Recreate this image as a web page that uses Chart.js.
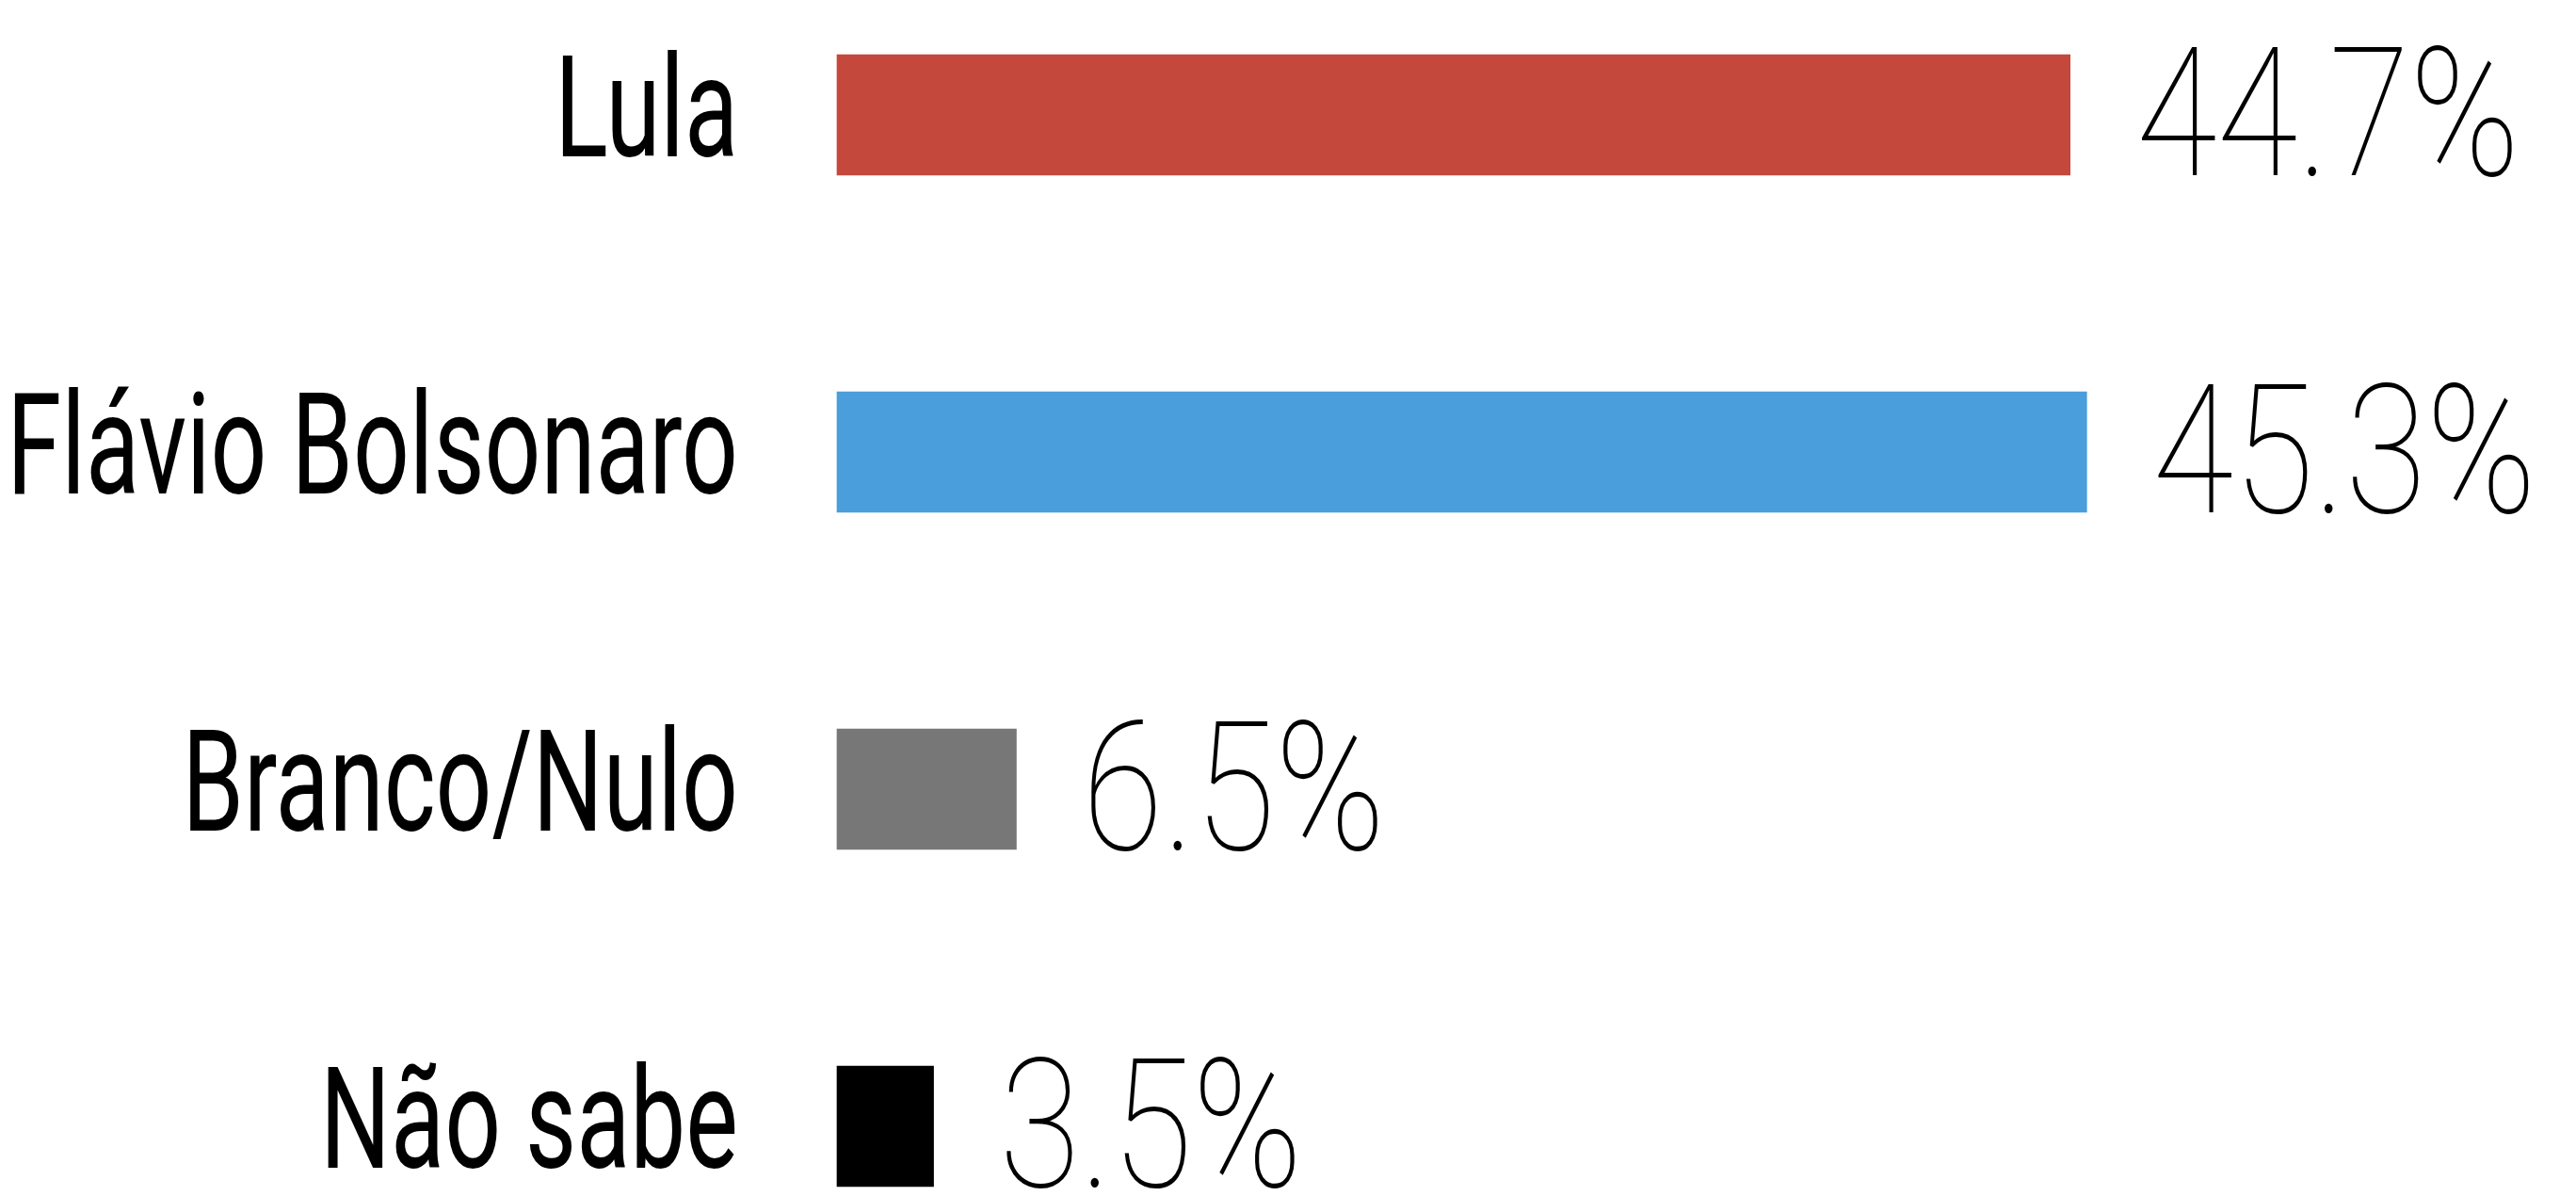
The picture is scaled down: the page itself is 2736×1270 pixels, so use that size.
<!DOCTYPE html>
<html>
<head>
<meta charset="utf-8">
<script src="https://cdn.jsdelivr.net/npm/chart.js@4.4.1/dist/chart.umd.min.js"></script>
<style>
  html, body { margin: 0; padding: 0; background: #ffffff; }
  #wrap { width: 2736px; height: 1270px; position: relative; }
</style>
</head>
<body>
<div id="wrap"><canvas id="chart"></canvas></div>
<script>
const candidates = ['Lula', 'Flávio Bolsonaro', 'Branco/Nulo', 'Não sabe']
const percentages = [44.7, 45.3, 6.5, 3.5]
const barColors = ['#c4483c', '#4a9edb', '#777777', '#000000']

// draws the condensed category names and the value labels
const labelPlugin = {
  id: 'labels',
  afterDatasetsDraw(chart) {
    const ctx = chart.ctx
    const yScale = chart.scales.y
    const meta = chart.getDatasetMeta(0)
    ctx.save()
    ctx.fillStyle = '#000000'
    ctx.textBaseline = 'alphabetic'
    candidates.forEach((name, i) => {
      const y = yScale.getPixelForValue(i)
      // category name, right aligned left of the bars
      ctx.save()
      ctx.translate(chart.chartArea.left - 105, y + 44)
      ctx.scale(0.70, 1)
      ctx.font = '400 150px Roboto, "Liberation Sans", sans-serif'
      ctx.textAlign = 'right'
      ctx.fillText(name, 0, 0)
      ctx.restore()
      // value after the bar
      const bar = meta.data[i]
      ctx.save()
      ctx.translate(bar.x + 70, y + 64)
      ctx.scale(0.82, 1)
      ctx.font = '100 191px Roboto, Lato, sans-serif'
      ctx.textAlign = 'left'
      ctx.fillText(percentages[i].toFixed(1) + '%', 0, 0)
      ctx.restore()
    })
    ctx.restore()
  }
}

new Chart(document.getElementById('chart'), {
  type: 'bar',
  data: {
    labels: candidates,
    datasets: [{
      data: percentages,
      backgroundColor: barColors,
      borderWidth: 0,
      barThickness: 128,
      clip: false
    }]
  },
  options: {
    indexAxis: 'y',
    responsive: true,
    maintainAspectRatio: false,
    animation: false,
    events: [],
    layout: {
      padding: { left: 889, right: 89, top: 122, bottom: 74 }
    },
    plugins: {
      legend: { display: false },
      tooltip: { enabled: false }
    },
    scales: {
      x: {
        display: false,
        min: 0,
        max: 60
      },
      y: {
        display: false,
        offset: false,
        grid: { display: false }
      }
    }
  },
  plugins: [labelPlugin]
})
</script>
</body>
</html>
